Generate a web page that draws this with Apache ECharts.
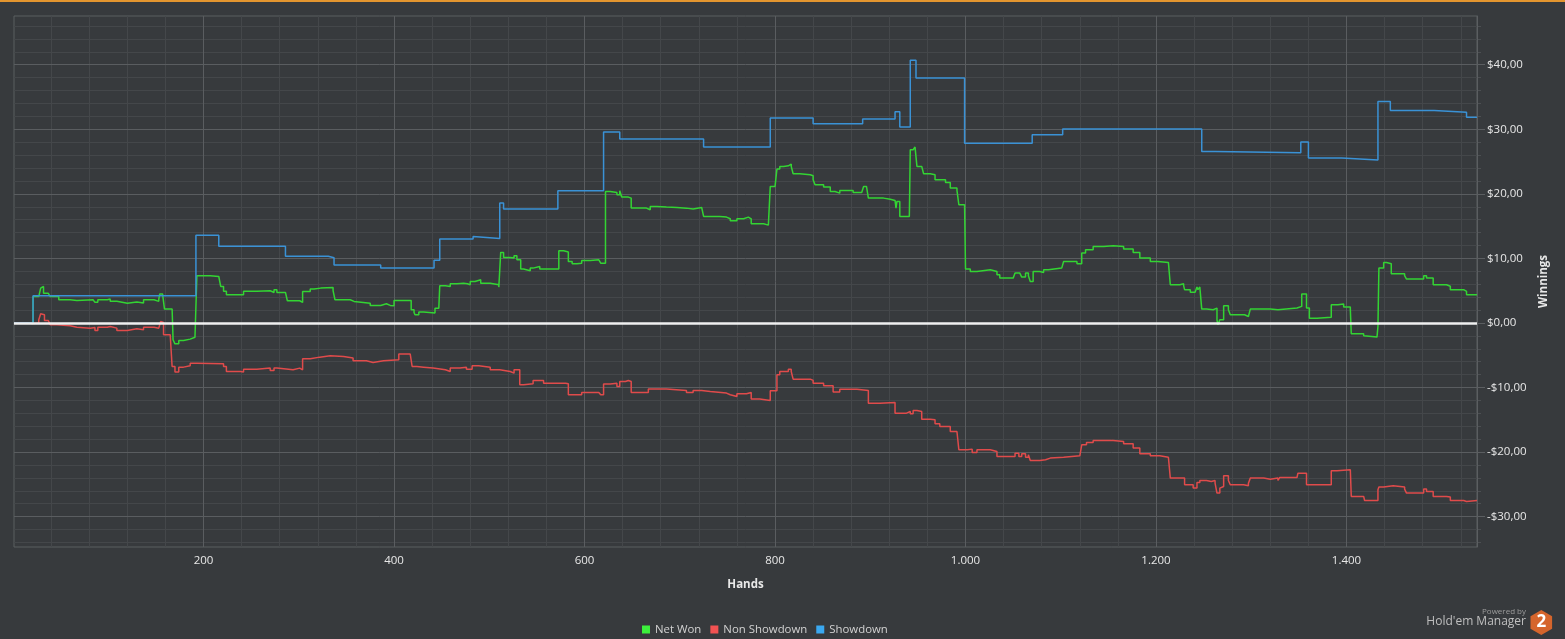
<!DOCTYPE html>
<html><head><meta charset="utf-8">
<script src="https://cdn.jsdelivr.net/npm/echarts@6/dist/echarts.min.js"></script>
<style>html,body{margin:0;padding:0;background:#373a3d;overflow:hidden}#c{width:1565px;height:639px}</style>
</head><body><div id="c"></div>
<script>
const handTicks = [200, 400, 600, 800, 1000, 1200, 1400];
const handMinorTicks = [40, 80, 120, 160, 240, 280, 320, 360, 440, 480, 520, 560, 640, 680, 720, 760, 840, 880, 920, 960, 1040, 1080, 1120, 1160, 1240, 1280, 1320, 1360, 1440, 1480, 1520];
const winningsTicks = [-30, -20, -10, 0, 10, 20, 30, 40];
const winningsMinorTicks = [-34, -32, -28, -26, -24, -22, -18, -16, -14, -12, -8, -6, -4, -2, 2, 4, 6, 8, 12, 14, 16, 18, 22, 24, 26, 28, 32, 34, 36, 38, 42, 44, 46];
const seriesNames = ['Net Won', 'Non Showdown', 'Showdown'];

const netWonHands = [1,15,21,27,29,30,32,37,39,48,60,67,84,86,89,99,102,109,120,130,137,148,153,154,157,159,167,168,170,174,179,186,191,193,207,216,218,221,224,239,242,256,270,274,277,286,288,301,304,312,316,323,336,338,354,358,375,386,392,396,400,415,418,421,422,426,431,443,447,448,454,459,466,473,477,480,485,491,501,510,512,515,522,526,529,533,536,543,546,553,573,578,583,587,592,597,606,615,617,622,627,634,637,639,646,649,665,669,676,686,697,707,714,723,725,742,749,753,760,767,772,775,788,793,795,800,802,805,809,814,817,819,826,837,840,842,851,858,863,868,882,891,893,896,898,914,921,926,927,928,931,941,942,945,946,947,949,954,956,963,968,979,984,991,993,999,1000,1005,1012,1026,1033,1036,1050,1052,1057,1059,1063,1066,1068,1071,1078,1082,1087,1089,1101,1103,1117,1122,1126,1134,1145,1155,1166,1176,1183,1194,1202,1213,1215,1225,1229,1230,1236,1241,1243,1244,1246,1248,1253,1260,1262,1264,1265,1267,1271,1276,1278,1293,1297,1299,1320,1328,1330,1348,1353,1358,1361,1369,1384,1391,1397,1404,1405,1418,1419,1432,1433,1434,1439,1442,1447,1461,1463,1477,1481,1484,1491,1505,1509,1523,1526,1537];
const netWonValues = [0.05,-0.1,4.1,4.4,5.4,5.66,4.6,4.45,4.1,3.6,3.5,3.6,3.5,3.2,3.6,3.7,3.35,3.05,3.25,3.1,3.6,3.35,3.7,4.47,4.37,2.15,2.05,-2.6,-3.23,-2.7,-2.5,-2.2,-2.1,7.3,7.2,6.95,5.66,4.9,4.37,4.37,4.9,4.99,4.73,5.14,4.73,4.88,3.44,3.18,4.88,5.25,5.4,5.51,5.0,3.6,3.34,3.05,2.72,2.98,2.72,2.66,3.49,3.5,2.05,1.63,1.27,1.69,1.53,2.3,2.56,5.76,5.66,6.07,6.17,6.07,5.91,6.43,6.69,6.17,5.91,5.55,10.93,10.15,10.05,10.41,9.79,8.35,8.09,8.5,8.76,8.35,11.18,10.98,9.53,9.17,9.27,9.69,9.79,9.69,9.27,20.37,20.22,19.86,20.48,19.5,19.34,17.8,17.53,18.05,17.95,17.89,17.79,17.64,17.89,17.79,16.5,16.4,16.14,15.83,16.14,16.4,16.14,15.37,15.16,14.96,21.15,21.26,23.84,24.25,24.35,24.61,24.25,23.11,22.96,22.8,22.19,21.41,21.05,20.37,20.11,20.53,20.22,20.37,21.15,20.89,19.34,19.18,18.98,18.82,17.79,18.82,16.49,16.6,26.83,26.57,27.09,27.25,24.25,23.99,23.11,22.96,22.19,21.77,20.89,20.53,18.31,18.15,8.35,7.98,8.24,7.98,7.47,6.95,7.11,7.73,7.62,7.11,7.73,7.31,6.44,7.98,7.83,8.24,8.35,8.5,8.66,9.53,9.17,10.83,11.34,11.86,11.96,11.86,11.44,10.93,10.05,9.53,9.38,9.17,5.93,6.09,5.78,5.16,4.75,4.54,5.57,5.16,5.57,2.15,2.05,1.94,2.31,0.49,-0.28,0.49,2.67,2.05,1.27,1.01,1.27,2.15,2.05,1.79,2.31,2.57,4.49,2.31,0.75,0.9,2.83,2.93,2.46,2.15,-1.67,-1.98,-2.19,-2.34,-0.54,8.5,9.38,9.17,7.63,7.32,6.81,6.81,7.32,6.96,5.93,5.68,5.16,4.9,4.39,4.39];

const nonShowdownHands = [1,15,21,22,27,29,31,33,37,39,46,60,67,81,86,89,99,102,109,120,130,137,148,153,155,156,158,165,167,170,174,179,186,193,221,224,239,242,256,270,274,277,294,301,304,312,322,333,347,357,371,378,389,405,417,419,424,431,441,454,459,469,476,482,489,501,511,522,526,532,536,546,557,580,583,597,615,617,620,627,634,637,643,646,649,664,667,686,707,714,723,732,749,753,760,770,775,784,795,802,805,814,817,819,837,840,851,861,868,886,898,910,926,938,942,945,949,954,963,968,973,984,991,993,1002,1007,1012,1026,1033,1052,1056,1059,1063,1066,1068,1078,1084,1089,1103,1120,1122,1127,1134,1155,1166,1176,1183,1194,1204,1213,1215,1230,1239,1243,1246,1253,1258,1262,1264,1267,1269,1271,1276,1278,1292,1297,1299,1313,1320,1328,1330,1348,1349,1358,1384,1390,1404,1405,1418,1419,1433,1434,1439,1449,1461,1463,1477,1481,1484,1491,1505,1509,1523,1526,1537];
const nonShowdownValues = [0,-0.1,-0.28,0,0.49,1.43,1.27,0.39,0.13,-0.28,-0.44,-0.65,-0.8,-0.7,-1.16,-0.65,-0.54,-0.8,-1.16,-0.91,-1.06,-0.65,-0.8,-0.54,0.23,0.08,-1.83,-2.09,-6.74,-7.61,-6.84,-6.63,-6.22,-6.32,-6.74,-7.51,-7.61,-7.15,-6.99,-7.35,-6.99,-7.25,-6.99,-7.25,-5.55,-5.29,-5.08,-5.18,-5.44,-5.86,-6.12,-5.86,-5.7,-4.82,-5.08,-6.74,-6.84,-6.99,-7.25,-7.51,-6.99,-6.84,-7.15,-6.63,-6.84,-7.25,-7.51,-7.77,-7.25,-9.57,-9.42,-8.9,-9.32,-9.42,-11.12,-10.76,-10.76,-11.12,-9.47,-9.32,-9.83,-9.06,-8.9,-9.06,-10.76,-10.76,-10.24,-10.45,-10.76,-10.45,-10.6,-10.86,-11.12,-11.38,-10.97,-10.76,-11.79,-12.0,-10.5,-8.02,-7.51,-7.15,-7.51,-8.7,-8.9,-9.32,-9.73,-10.71,-10.25,-10.46,-12.42,-12.31,-13.97,-13.71,-14.07,-13.55,-13.71,-14.9,-15.0,-15.62,-16.03,-16.81,-17.07,-19.64,-19.54,-20.05,-19.64,-19.9,-20.68,-20.16,-20.68,-20.26,-20.78,-20.42,-21.29,-21.19,-20.93,-20.78,-20.57,-20.68,-18.87,-18.51,-18.2,-18.35,-18.71,-19.38,-20.26,-20.57,-20.8,-20.93,-24.03,-25.06,-25.58,-24.7,-24.39,-24.55,-24.39,-24.81,-26.35,-25.58,-25.32,-23.67,-24.39,-25.06,-25.22,-24.81,-24.03,-24.19,-24.03,-24.39,-23.93,-23.77,-23.26,-25.06,-22.9,-22.74,-23.0,-26.87,-27.13,-27.49,-25.84,-25.42,-25.22,-25.42,-25.73,-26.35,-26.35,-25.73,-26.1,-26.87,-26.97,-27.49,-27.65,-27.49,-27.54];

const showdownHands = [1,21,192,216,286,331,337,386,442,448,483,485,511,515,572,620,637,725,795,840,892,926,931,942,948,999,1070,1102,1248,1262,1352,1360,1395,1433,1446,1492,1526,1537];
const showdownValues = [0,4.2,13.6,11.9,10.35,10.1,9.0,8.5,9.7,13.0,13.4,13.1,18.6,17.65,20.5,29.6,28.5,27.25,31.75,30.85,31.6,32.7,30.35,40.7,37.95,27.85,29.15,30.05,26.55,26.35,28.05,25.55,25.25,34.3,32.9,32.65,31.85,31.85];

const FONT = '"Open Sans", "Noto Sans", sans-serif';
const pair = (hs, vs) => hs.map((h, i) => [h, vs[i]]);
const fmtHands = v => v >= 1000 ? Math.floor(v / 1000) + '.' + String(v % 1000).padStart(3, '0') : String(v);
const fmtMoney = v => (v < 0 ? '-' : '') + '$' + Math.abs(v).toFixed(2).replace('.', ',');

const chart = echarts.init(document.getElementById('c'), null, {renderer: 'canvas'});
const lineColors = ['#33d433', '#e04b4b', '#3a92d6'];
const legendColors = ['#3cf03c', '#f25252', '#3aa8f0'];
const seriesData = [pair(netWonHands, netWonValues), pair(nonShowdownHands, nonShowdownValues), pair(showdownHands, showdownValues)];

const xCommon = {type: 'value', min: 1, max: 1537, position: 'bottom'};
const yCommon = {type: 'value', min: -34.7, max: 47.55, position: 'right'};

chart.setOption({
  animation: false,
  backgroundColor: '#373a3d',
  textStyle: {fontFamily: FONT},
  grid: {left: 14, right: 88, top: 16, bottom: 92, show: true, borderColor: '#5b5e61', borderWidth: 1, backgroundColor: 'transparent'},
  xAxis: [
    Object.assign({}, xCommon, {
      z: 2,
      name: 'Hands', nameLocation: 'middle', nameGap: 32,
      nameTextStyle: {color: '#e8e8e8', fontWeight: 'bold', fontSize: 11.5, fontFamily: FONT},
      axisLine: {show: true, lineStyle: {color: '#5b5e61', width: 1}},
      axisTick: {show: true, customValues: handTicks, length: 16, lineStyle: {color: '#5b5e61'}},
      axisLabel: {show: true, customValues: handTicks, color: '#e8e8e8', fontSize: 11.5, margin: 8, fontFamily: FONT, formatter: fmtHands},
      splitLine: {show: true, lineStyle: {color: '#5a5d60', width: 1}}
    }),
    Object.assign({}, xCommon, {
      z: 1,
      axisLine: {show: false},
      axisTick: {show: true, customValues: handMinorTicks, length: 5, lineStyle: {color: '#4c4f52'}},
      axisLabel: {show: false, customValues: handMinorTicks},
      splitLine: {show: true, lineStyle: {color: '#44474a', width: 1}}
    })
  ],
  yAxis: [
    Object.assign({}, yCommon, {
      z: 2,
      name: 'Winnings', nameLocation: 'middle', nameGap: 59, nameRotate: 90,
      nameTextStyle: {color: '#e8e8e8', fontWeight: 'bold', fontSize: 11.5, fontFamily: FONT},
      axisLine: {show: true, lineStyle: {color: '#5b5e61', width: 1}},
      axisTick: {show: true, customValues: winningsTicks, length: 8, lineStyle: {color: '#5b5e61'}},
      axisLabel: {show: true, customValues: winningsTicks, color: '#e8e8e8', fontSize: 11.5, margin: 10, fontFamily: FONT, formatter: fmtMoney},
      splitLine: {show: true, lineStyle: {color: '#5a5d60', width: 1}}
    }),
    Object.assign({}, yCommon, {
      z: 1,
      axisLine: {show: false},
      axisTick: {show: true, customValues: winningsMinorTicks, length: 4, lineStyle: {color: '#4c4f52'}},
      axisLabel: {show: false, customValues: winningsMinorTicks},
      splitLine: {show: true, lineStyle: {color: '#44474a', width: 1}}
    })
  ],
  legend: {
    left: 637, top: 619, icon: 'rect', itemWidth: 8, itemHeight: 8, itemGap: 9,
    textStyle: {color: '#d2d2d2', fontSize: 11.4, fontFamily: FONT},
    data: seriesNames.map((n, i) => ({name: n, itemStyle: {color: legendColors[i]}}))
  },
  series: seriesNames.map((n, i) => {
    const s = {
      name: n, type: 'line', step: 'end', xAxisIndex: 0, yAxisIndex: 0,
      data: seriesData[i], showSymbol: false, symbol: 'none',
      color: lineColors[i],
      lineStyle: {color: lineColors[i], width: 1.5},
      emphasis: {disabled: true}, z: 3
    };
    if (i === seriesNames.length - 1) {
      s.markLine = {silent: true, symbol: 'none', label: {show: false}, z: 5,
        lineStyle: {color: '#f0f0f0', width: 2.5, type: 'solid'}, emphasis: {disabled: true},
        data: [{yAxis: 0}]};
    }
    return s;
  }),
  graphic: [
    {type: 'rect', left: 0, top: 0, shape: {width: 1565, height: 2}, style: {fill: '#e3952f'}},
    {type: 'text', right: 39, top: 608, style: {text: 'Powered by', fill: '#9c9c9c', font: '8px "Open Sans"'}},
    {type: 'text', right: 39, top: 616, style: {text: "Hold'em Manager", fill: '#bfbfbf', font: '12px "Open Sans"'}},
    {type: 'polygon', shape: {points: [[1541.3, 610], [1552.1, 616.25], [1552.1, 628.75], [1541.3, 635], [1530.5, 628.75], [1530.5, 616.25]]}, style: {fill: '#d5652c'}},
    {type: 'text', x: 1541.3, y: 622.5, style: {text: '2', fill: '#ffffff', font: 'bold 17px "Open Sans"', align: 'center', verticalAlign: 'middle'}}
  ]
});
</script></body></html>
